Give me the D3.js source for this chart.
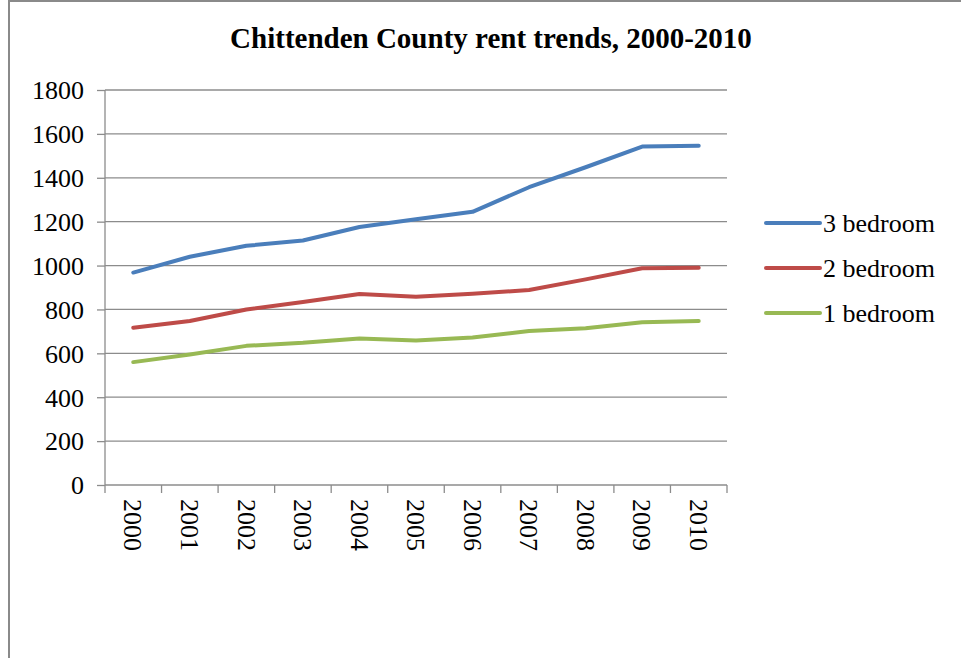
<!DOCTYPE html>
<html>
<head>
<meta charset="utf-8">
<script src="https://cdn.jsdelivr.net/npm/d3@7"></script>
<style>
  body { margin: 0; background: #fff; }
  svg text { font-family: "Times New Roman", Tinos, "Liberation Serif", serif; font-weight: normal; fill: #000; }
  svg text.title { font-weight: bold; }
</style>
</head>
<body>
<svg id="chart" width="961" height="658"></svg>
<script>
// --- data ---
var years = ["2000", "2001", "2002", "2003", "2004", "2005", "2006", "2007", "2008", "2009", "2010"];
var threeBed = [968, 1040, 1090, 1114, 1176, 1211, 1245, 1357, 1448, 1542, 1546];
var twoBed = [717, 747, 800, 834, 870, 858, 871, 889, 937, 988, 990];
var oneBed = [560, 595, 634, 648, 668, 658, 672, 702, 714, 742, 747];
var seriesNames = ["3 bedroom", "2 bedroom", "1 bedroom"];
var yTicks = [0, 200, 400, 600, 800, 1000, 1200, 1400, 1600, 1800];

var colors = {
  "3 bedroom": "#4a7ebb",
  "2 bedroom": "#be4b48",
  "1 bedroom": "#98b954"
};

var series = [
  { name: "3 bedroom", values: threeBed },
  { name: "2 bedroom", values: twoBed },
  { name: "1 bedroom", values: oneBed }
];

// --- layout ---
var plot = { left: 105, right: 727, top: 90, bottom: 485 };
var svg = d3.select("#chart");

// chart frame (only left and top edges are visible in the picture)
svg.append("line").attr("x1", 9).attr("x2", 9).attr("y1", 0).attr("y2", 658)
  .attr("stroke", "#8a8a8a").attr("stroke-width", 2);
svg.append("line").attr("x1", 8).attr("x2", 961).attr("y1", 1).attr("y2", 1)
  .attr("stroke", "#8a8a8a").attr("stroke-width", 2);

var x = d3.scaleBand()
  .domain(years)
  .range([plot.left, plot.right]);

var y = d3.scaleLinear()
  .domain([0, 1800])
  .range([plot.bottom, plot.top]);

// gridlines
svg.append("g")
  .selectAll("line")
  .data(yTicks.filter(function(d) { return d > 0; }))
  .enter()
    .append("line")
    .attr("x1", plot.left)
    .attr("x2", plot.right)
    .attr("y1", function(d) { return y(d); })
    .attr("y2", function(d) { return y(d); })
    .attr("stroke", "#8c8c8c")
    .attr("stroke-width", 1.3);

// y axis
var yAxis = svg.append("g")
  .attr("transform", "translate(" + plot.left + ",0)")
  .call(d3.axisLeft(y).tickValues(yTicks).tickFormat(d3.format("d")).tickSize(8).tickPadding(13));
yAxis.attr("font-family", null).attr("font-size", null);
yAxis.selectAll("line, path").attr("stroke", "#8c8c8c").attr("stroke-width", 1.3);
yAxis.select(".domain").attr("d", "M0," + (plot.bottom + 8) + "V" + plot.top);
yAxis.selectAll("text")
  .style("font-size", "26px")
  .attr("fill", "#000")
  .attr("dy", "0.34em");

// x axis: ticks sit on the band edges
var xAxis = svg.append("g").attr("class", "x-axis");
xAxis.append("line")
  .attr("x1", plot.left).attr("x2", plot.right)
  .attr("y1", plot.bottom).attr("y2", plot.bottom)
  .attr("stroke", "#8c8c8c").attr("stroke-width", 1.3);
var edges = years.map(function(d) { return x(d); }).concat([plot.right]);
xAxis.selectAll("line.tick")
  .data(edges.slice(1))
  .enter()
    .append("line")
    .attr("class", "tick")
    .attr("x1", function(d) { return d; })
    .attr("x2", function(d) { return d; })
    .attr("y1", plot.bottom)
    .attr("y2", plot.bottom + 8)
    .attr("stroke", "#8c8c8c")
    .attr("stroke-width", 1.3);

xAxis.selectAll("text")
  .data(years)
  .enter()
    .append("text")
    .text(function(d) { return d; })
    .attr("transform", function(d) {
      return "translate(" + (x(d) + x.bandwidth() / 2) + "," + (plot.bottom + 14) + ") rotate(90)";
    })
    .attr("dy", "0.34em")
    .style("font-size", "26px");

// lines
var line = d3.line()
  .x(function(d, i) { return x(years[i]) + x.bandwidth() / 2; })
  .y(function(d) { return y(d); });

svg.append("g")
  .selectAll("path")
  .data(series)
  .enter()
    .append("path")
    .attr("d", function(d) { return line(d.values); })
    .attr("fill", "none")
    .attr("stroke", function(d) { return colors[d.name]; })
    .attr("stroke-width", 4)
    .attr("stroke-linejoin", "round")
    .attr("stroke-linecap", "round");

// legend
var legend = svg.append("g")
  .selectAll("g")
  .data(seriesNames)
  .enter()
    .append("g")
    .attr("transform", function(d, i) { return "translate(766," + (223 + i * 45) + ")"; });

legend.append("line")
  .attr("x1", 0).attr("x2", 54)
  .attr("stroke", function(d) { return colors[d]; })
  .attr("stroke-width", 4)
  .attr("stroke-linecap", "round");

legend.append("text")
  .attr("x", 57)
  .attr("dy", "0.34em")
  .style("font-size", "26px")
  .text(function(d) { return d; });

// title
svg.append("text")
  .attr("class", "title")
  .attr("x", 491)
  .attr("y", 48)
  .attr("text-anchor", "middle")
  .style("font-size", "29px")
  .text("Chittenden County rent trends, 2000-2010");
</script>
</body>
</html>
